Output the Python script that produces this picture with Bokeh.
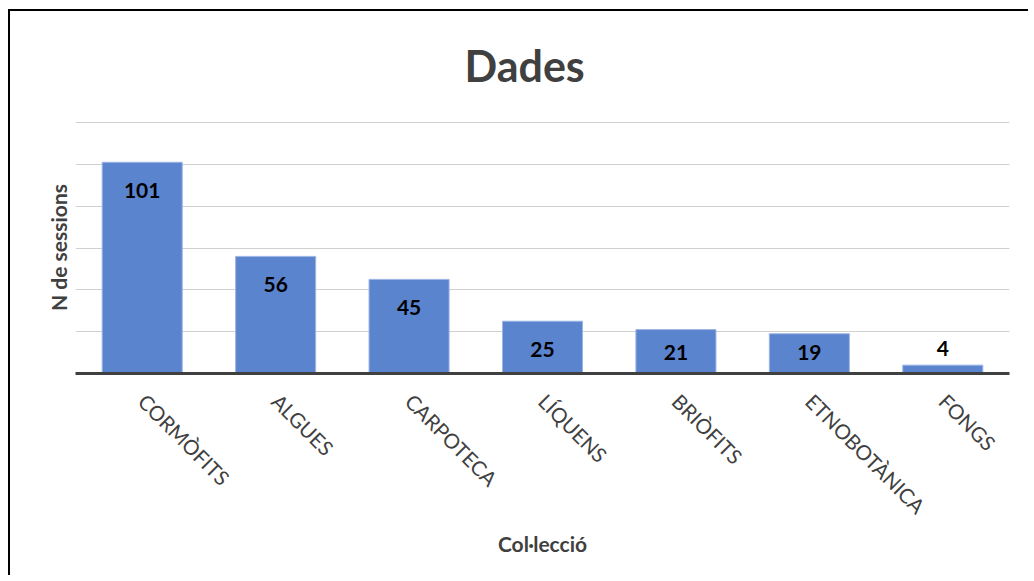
import numpy as np
from bokeh.plotting import figure
from bokeh.models import ColumnDataSource, Range1d, FixedTicker
from bokeh.core.properties import value
from bokeh.embed import file_html
from bokeh.resources import INLINE

categories = ["CORMÒFITS", "ALGUES", "CARPOTECA", "LÍQUENS", "BRIÒFITS", "ETNOBOTÀNICA", "FONGS"]
sessions = [101, 56, 45, 25, 21, 19, 4]
grid_ticks = [0, 20, 40, 60, 80, 100, 120]
title_text = "Dades"

vals = np.array(sessions, dtype=float)
label_y = np.where(vals > 10, np.maximum(vals - 13.5, 10), vals + 8)
src = ColumnDataSource(dict(cat=categories, v=sessions, ly=label_y,
                            txt=[str(s) for s in sessions]))

FONT = "Lato"
p = figure(width=1020, height=566, x_range=categories, y_range=Range1d(0, 120.5),
           output_backend="svg", toolbar_location=None,
           min_border_left=65, min_border_right=21, min_border_top=110, min_border_bottom=204)
p.outline_line_color = None
p.styles = {"box-shadow": "-2px -2px 0 0 #000", "margin-left": "10px", "margin-top": "11px"}

p.title.text = title_text
p.title.align = "left"
p.title.offset = 389
p.title.vertical_align = "top"
p.title.standoff = 57
p.title.text_font = FONT
p.title.text_font_size = "43px"
p.title.text_font_style = "bold"
p.title.text_color = "#404040"

p.vbar(x="cat", top="v", width=0.6, source=src,
       fill_color="#5b84cf", line_color="#9db5e3", line_width=1)
p.text(x="cat", y="ly", text="txt", source=src, text_align="center", text_baseline="middle",
       text_font=value(FONT), text_font_size="21px", text_font_style="bold", text_color="#000000")

p.xgrid.grid_line_color = None
p.ygrid.ticker = FixedTicker(ticks=grid_ticks)
p.ygrid.grid_line_color = "#d0d0d0"
p.ygrid.grid_line_width = 1

p.yaxis.ticker = FixedTicker(ticks=[])
p.yaxis.axis_line_color = None
p.yaxis.major_tick_line_color = None
p.yaxis.minor_tick_line_color = None
p.yaxis.major_label_text_font_size = "0px"
p.yaxis.axis_label = "N de sessions"
p.yaxis.axis_label_text_font = FONT
p.yaxis.axis_label_text_font_size = "21px"
p.yaxis.axis_label_text_font_style = "bold"
p.yaxis.axis_label_text_color = "#404040"
p.yaxis.axis_label_standoff = 5

p.xaxis.axis_line_color = "#404040"
p.xaxis.axis_line_width = 3
p.xaxis.major_tick_line_color = None
p.xaxis.minor_tick_line_color = None
p.xaxis.major_label_orientation = -np.pi / 4
p.xaxis.major_label_text_font = FONT
p.xaxis.major_label_text_font_size = "20.5px"
p.xaxis.major_label_text_color = "#404040"
p.xaxis.major_label_standoff = 18
p.xaxis.axis_label = "Col·lecció"
p.xaxis.axis_label_text_font = FONT
p.xaxis.axis_label_text_font_size = "21px"
p.xaxis.axis_label_text_font_style = "bold"
p.xaxis.axis_label_text_color = "#404040"
p.xaxis.axis_label_standoff = 1

open("out.html", "w").write(file_html(p, INLINE))
